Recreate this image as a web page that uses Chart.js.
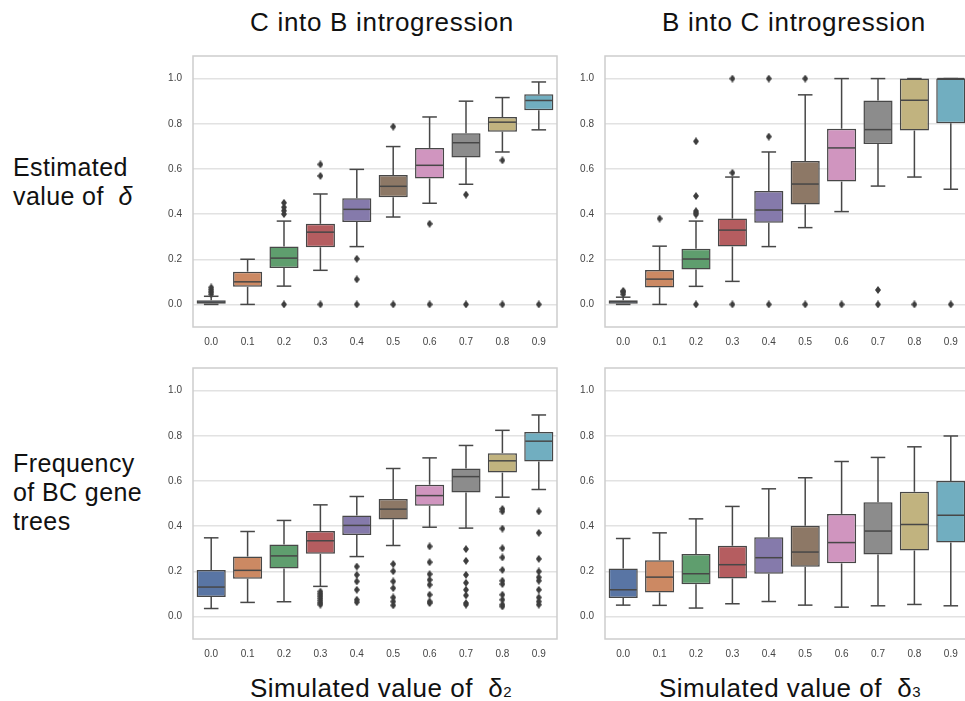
<!DOCTYPE html>
<html>
<head>
<meta charset="utf-8">
<script src="https://cdn.jsdelivr.net/npm/chart.js@4"></script>
<style>
  html, body { margin: 0; padding: 0; width: 965px; height: 701px; overflow: hidden; background: #fff; }
  canvas { position: absolute; }
  .lbl { position: absolute; font-family: "Liberation Sans", Arial, sans-serif; color: #111; white-space: nowrap; }
  .title { font-size: 26px; line-height: 30px; letter-spacing: 0.7px; }
  .row { font-size: 25px; line-height: 29px; letter-spacing: 0.4px; }
  .xt { font-size: 26px; line-height: 30px; letter-spacing: 0.5px; }
  .sub { font-size: 15px; letter-spacing: 0; }
</style>
</head>
<body>
<div class="lbl title" style="left:250px; top:7px;">C into B introgression</div>
<div class="lbl title" style="left:662px; top:7px;">B into C introgression</div>
<div class="lbl row" style="left:13px; top:153px;">Estimated<br>value of &nbsp;<i>δ</i></div>
<div class="lbl row" style="left:13px; top:449px;">Frequency<br>of BC gene<br>trees</div>
<div class="lbl xt" style="left:250px; top:673px;">Simulated value of &nbsp;δ<span class="sub">2</span></div>
<div class="lbl xt" style="left:659px; top:673px;">Simulated value of &nbsp;δ<span class="sub">3</span></div>

<canvas id="cbEst" width="419" height="311" style="left:148px; top:46px;"></canvas>
<canvas id="bcEst" width="419" height="311" style="left:560px; top:46px;"></canvas>
<canvas id="cbFreq" width="419" height="311" style="left:148px; top:358px;"></canvas>
<canvas id="bcFreq" width="419" height="311" style="left:560px; top:358px;"></canvas>

<script>
const categories = ['0.0', '0.1', '0.2', '0.3', '0.4', '0.5', '0.6', '0.7', '0.8', '0.9'];
const yTicks = [0, 0.2, 0.4, 0.6, 0.8, 1.0];
const palette = ['#5975a4', '#cc8963', '#5f9e6e', '#b55d60', '#857aab',
                 '#8d7866', '#d095bf', '#8c8c8c', '#c1b37f', '#71aec0'];

// C into B, estimated delta
const cbEstQ1  = [0.0, 0.078, 0.161, 0.253, 0.365, 0.474, 0.558, 0.651, 0.765, 0.86];
const cbEstMed = [0.01, 0.10, 0.205, 0.32, 0.421, 0.523, 0.616, 0.716, 0.807, 0.903];
const cbEstQ3  = [0.018, 0.145, 0.256, 0.357, 0.47, 0.573, 0.693, 0.758, 0.83, 0.931];
const cbEstLo  = [0.0, 0.0, 0.081, 0.151, 0.256, 0.387, 0.448, 0.532, 0.675, 0.773];
const cbEstHi  = [0.036, 0.20, 0.369, 0.489, 0.598, 0.699, 0.83, 0.90, 0.916, 0.985];
const cbEstOut = [[0.045, 0.055, 0.065, 0.075], [], [0.40, 0.415, 0.43, 0.45, 0], [0.569, 0.62, 0],
                  [0.202, 0.111, 0], [0.787, 0], [0.357, 0], [0.486, 0], [0.638, 0], [0]];

// B into C, estimated delta
const bcEstQ1  = [0.0, 0.075, 0.155, 0.256, 0.362, 0.442, 0.544, 0.71, 0.77, 0.802];
const bcEstMed = [0.012, 0.112, 0.201, 0.329, 0.418, 0.533, 0.693, 0.774, 0.904, 1.0];
const bcEstQ3  = [0.019, 0.152, 0.247, 0.38, 0.502, 0.635, 0.778, 0.903, 1.0, 1.0];
const bcEstLo  = [0.0, 0.0, 0.08, 0.102, 0.256, 0.34, 0.411, 0.524, 0.564, 0.51];
const bcEstHi  = [0.032, 0.258, 0.369, 0.564, 0.675, 0.928, 1.0, 1.0, 1.0, 1.0];
const bcEstOut = [[0.045, 0.055, 0.06], [0.38], [0.722, 0.48, 0.413, 0.405, 0.398, 0], [1.0, 0.583, 0],
                  [1.0, 0.743, 0], [1.0, 0], [0], [0.064, 0], [0], [0]];

// C into B, frequency of BC gene trees
const cbFreqQ1  = [0.086, 0.167, 0.212, 0.277, 0.36, 0.429, 0.49, 0.549, 0.637, 0.686];
const cbFreqMed = [0.13, 0.204, 0.268, 0.335, 0.403, 0.475, 0.535, 0.619, 0.689, 0.776];
const cbFreqQ3  = [0.206, 0.265, 0.319, 0.378, 0.447, 0.52, 0.583, 0.655, 0.723, 0.817];
const cbFreqLo  = [0.035, 0.062, 0.065, 0.133, 0.265, 0.314, 0.395, 0.391, 0.528, 0.562];
const cbFreqHi  = [0.348, 0.376, 0.425, 0.494, 0.531, 0.655, 0.702, 0.757, 0.824, 0.892];
const cbFreqOut = [[], [], [],
  [0.11, 0.10, 0.09, 0.08, 0.07, 0.06, 0.052],
  [0.221, 0.184, 0.155, 0.118, 0.074, 0.063],
  [0.232, 0.2, 0.155, 0.125, 0.084, 0.066, 0.049],
  [0.31, 0.24, 0.187, 0.162, 0.14, 0.096, 0.066, 0.059],
  [0.298, 0.246, 0.184, 0.149, 0.118, 0.093, 0.059, 0.052],
  [0.476, 0.465, 0.389, 0.302, 0.261, 0.206, 0.158, 0.143, 0.096, 0.074, 0.052, 0.044],
  [0.465, 0.37, 0.255, 0.199, 0.173, 0.158, 0.118, 0.084, 0.066, 0.052]];

// B into C, frequency of BC gene trees
const bcFreqQ1  = [0.081, 0.106, 0.142, 0.168, 0.189, 0.22, 0.235, 0.274, 0.292, 0.327];
const bcFreqMed = [0.118, 0.174, 0.189, 0.229, 0.26, 0.285, 0.327, 0.378, 0.407, 0.448];
const bcFreqQ3  = [0.212, 0.249, 0.276, 0.313, 0.351, 0.401, 0.454, 0.506, 0.552, 0.6];
const bcFreqLo  = [0.05, 0.049, 0.037, 0.056, 0.066, 0.05, 0.041, 0.047, 0.053, 0.047];
const bcFreqHi  = [0.345, 0.37, 0.432, 0.487, 0.565, 0.614, 0.686, 0.704, 0.751, 0.799];
const bcFreqOut = [[], [], [], [], [], [], [], [], [], []];

const lineColor = '#474747';
const tickFont = { family: '"Liberation Sans", Arial, sans-serif', size: 10 };

// thin diamond like seaborn's flier marker
const diamond = document.createElement('canvas');
diamond.width = 6;
diamond.height = 8;
(function () {
  let c = diamond.getContext('2d');
  c.fillStyle = '#3d3d3d';
  c.beginPath();
  c.moveTo(3, 0); c.lineTo(6, 4); c.lineTo(3, 8); c.lineTo(0, 4);
  c.closePath();
  c.fill();
})();

const boxPlugin = {
  id: 'boxWhiskers',
  beforeDatasetsDraw(chart) {
    let { ctx, chartArea: a } = chart;
    ctx.save();
    ctx.strokeStyle = '#cdcdcd';
    ctx.lineWidth = 1.5;
    ctx.strokeRect(a.left, a.top, a.width, a.height);
    ctx.restore();
  },
  afterDatasetsDraw(chart) {
    let ds = chart.data.datasets[0];
    let meta = chart.getDatasetMeta(0);
    let y = chart.scales.y;
    let ctx = chart.ctx;
    ctx.save();
    ctx.strokeStyle = lineColor;
    ctx.lineWidth = 1.5;
    let seg = (x1, y1, x2, y2) => {
      ctx.beginPath(); ctx.moveTo(x1, y1); ctx.lineTo(x2, y2); ctx.stroke();
    };
    meta.data.forEach((bar, i) => {
      let x = bar.x;
      let half = bar.width / 2;
      let yq1 = y.getPixelForValue(ds.data[i][0]);
      let yq3 = y.getPixelForValue(ds.data[i][1]);
      let ylo = y.getPixelForValue(ds.whiskerLo[i]);
      let yhi = y.getPixelForValue(ds.whiskerHi[i]);
      let ymed = y.getPixelForValue(ds.medians[i]);
      seg(x, yq1, x, ylo);
      seg(x - half / 2, ylo, x + half / 2, ylo);
      seg(x, yq3, x, yhi);
      seg(x - half / 2, yhi, x + half / 2, yhi);
      seg(x - half + 1, ymed, x + half - 1, ymed);
    });
    ctx.restore();
  }
};

function drawPanel(id, q1, med, q3, lo, hi, out) {
  let fliers = [];
  out.forEach((vals, i) => vals.forEach(v => fliers.push({ x: categories[i], y: v })));

  return new Chart(document.getElementById(id), {
    type: 'bar',
    data: {
      labels: categories,
      datasets: [{
        data: q1.map((v, i) => [v, q3[i]]),
        medians: med,
        whiskerLo: lo,
        whiskerHi: hi,
        backgroundColor: palette,
        borderColor: lineColor,
        borderWidth: 1.5,
        borderSkipped: false,
        barPercentage: 0.8,
        categoryPercentage: 1.0
      }, {
        type: 'line',
        data: fliers,
        showLine: false,
        pointStyle: diamond,
        pointRadius: 3,
        clip: false
      }]
    },
    options: {
      responsive: false,
      animation: false,
      layout: { padding: { top: 10, right: 10, left: 0, bottom: 0 } },
      plugins: { legend: { display: false }, tooltip: { enabled: false } },
      scales: {
        x: {
          grid: { display: false, drawTicks: false },
          border: { display: false },
          ticks: { font: tickFont, color: '#444', padding: 9, maxRotation: 0, autoSkip: false },
          afterFit(scale) {
            scale.height = 30;
            scale.paddingLeft = 0;
            scale.paddingRight = 0;
          }
        },
        y: {
          min: -0.1,
          max: 1.1,
          grid: { color: '#e2e2e2', lineWidth: 1.5, drawTicks: false },
          border: { display: false },
          ticks: { font: tickFont, color: '#444', padding: 11, callback: v => v.toFixed(1) },
          afterBuildTicks(scale) { scale.ticks = yTicks.map(v => ({ value: v })); },
          afterFit(scale) {
            scale.width = 45;
            scale.paddingTop = 0;
            scale.paddingBottom = 0;
          }
        }
      }
    },
    plugins: [boxPlugin]
  });
}

drawPanel('cbEst', cbEstQ1, cbEstMed, cbEstQ3, cbEstLo, cbEstHi, cbEstOut);
drawPanel('bcEst', bcEstQ1, bcEstMed, bcEstQ3, bcEstLo, bcEstHi, bcEstOut);
drawPanel('cbFreq', cbFreqQ1, cbFreqMed, cbFreqQ3, cbFreqLo, cbFreqHi, cbFreqOut);
drawPanel('bcFreq', bcFreqQ1, bcFreqMed, bcFreqQ3, bcFreqLo, bcFreqHi, bcFreqOut);
</script>
</body>
</html>
